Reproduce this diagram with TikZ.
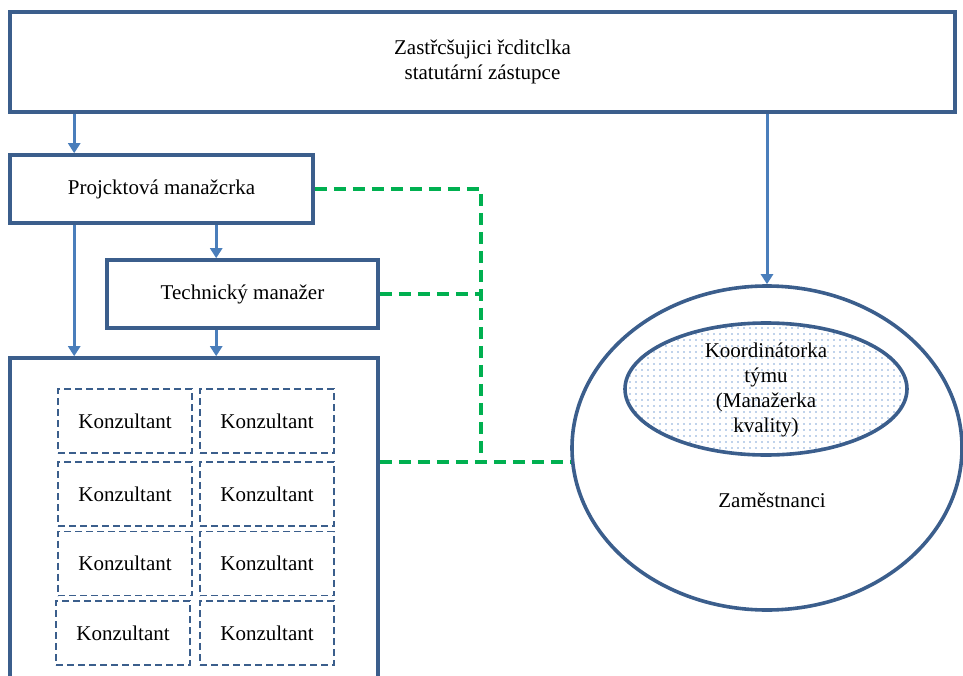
\documentclass[tikz,border=0pt]{standalone}
\usepackage{fontspec}
\setmainfont{Liberation Serif}
\usepackage{tikz}
\usetikzlibrary{arrows.meta, positioning, calc, patterns.meta, shapes.geometric}
\definecolor{boxblue}{HTML}{3B5E8C}
\definecolor{arrblue}{HTML}{4A7EBB}
\definecolor{linkgreen}{HTML}{00B050}
\definecolor{dotblue}{HTML}{7FA6D6}

\begin{document}
\begin{tikzpicture}[x=1pt, y=-1pt,
  font=\fontsize{21}{25}\selectfont,
  unit/.style={draw=boxblue, line width=3.6pt, fill=white, inner sep=0pt},
  cons/.style={draw=boxblue, line width=1.6pt, dash pattern=on 7pt off 4pt,
    minimum width=134pt, minimum height=64pt, inner sep=0pt},
  arr/.style={draw=arrblue, line width=3pt, -{Triangle[width=12pt,length=10pt]}},
  link/.style={draw=linkgreen, line width=3.2pt, dash pattern=on 12pt off 7pt}]
\clip (0,0) rectangle (963,676);
\node[unit, minimum width=945pt, minimum height=100pt, align=center] at (482.5,62) (top) {Zastřcšujici řcditclka\\statutární zástupce};
\node[unit, minimum width=303pt, minimum height=68pt] at (161.5,189) (proj) {Projcktová manažcrka};
\node[unit, minimum width=271pt, minimum height=68pt] at (242.5,294) (tech) {Technický manažer};
\node[unit, minimum width=368pt, minimum height=342pt] at (194,529) (grp) {};
\node[cons] at (125,421) (k11) {Konzultant};
\node[cons] at (267,421) (k12) {Konzultant};
\node[cons] at (125,494) (k21) {Konzultant};
\node[cons] at (267,494) (k22) {Konzultant};
\node[cons] at (125,563.5) (k31) {Konzultant};
\node[cons] at (267,563.5) (k32) {Konzultant};
\node[cons] at (123,633) (k41) {Konzultant};
\node[cons] at (267,633) (k42) {Konzultant};
\node[ellipse, draw=boxblue, line width=3.6pt, minimum width=390pt, minimum height=324pt] at (767,448) (staff) {};
\node at (772,500) (stafflbl) {Zaměstnanci};
\node[ellipse, draw=boxblue, line width=3.6pt, minimum width=282pt, minimum height=132pt,
  pattern={Dots[distance=6pt, radius=0.8pt]}, pattern color=dotblue] at (766,389) (coord) {};
\node[align=center] at (766,390) (coordlbl) {Koordinátorka\\týmu\\(Manažerka\\kvality)};
% reporting lines
\draw[arr] ([xshift=66pt]top.south west) -- ([xshift=66pt]proj.north west);
\draw[arr] (top.south -| staff.north) -- (staff.north);
\draw[arr] ([xshift=111pt]tech.north west |- proj.south) -- ([xshift=111pt]tech.north west);
\draw[arr] ([xshift=66pt]proj.south west) -- ([xshift=66pt]grp.north west);
\draw[arr] ([xshift=111pt]tech.south west) -- ([xshift=111pt]tech.south west |- grp.north);
% cooperation
\coordinate (join) at (481,462);
\draw[link] (proj.east) -| (join);
\draw[link] (tech.east) -- (tech.east -| join);
\draw[link] (grp.east |- join) -- (join -| staff.west);
\end{tikzpicture}
\end{document}
